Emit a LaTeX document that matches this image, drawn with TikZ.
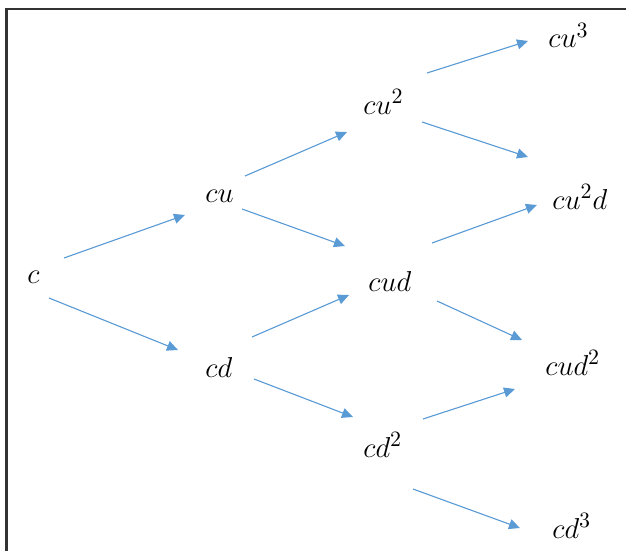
\documentclass[tikz,border=0pt]{standalone}
\usetikzlibrary{arrows.meta}
\definecolor{arrblue}{HTML}{5B9BD5}
\definecolor{framegray}{HTML}{333333}
\begin{document}
\begin{tikzpicture}[x=0.5pt,y=-0.5pt,
  lbl/.style={inner sep=0pt,anchor=base west,font=\fontsize{15.5}{18}\selectfont},
  arr/.style={draw=arrblue,line width=0.55pt,-{Triangle[length=5.5pt,width=5pt]},fill=arrblue}]
\useasboundingbox (0,0) rectangle (626,551);
\draw[framegray,line width=1.2pt] (6.5,551) -- (6.5,9) -- (626,9);
% nodes
\node[lbl] (c)    at (27,283)  {$c$};
\node[lbl] (cu)   at (205,202) {$cu$};
\node[lbl] (cd)   at (205,377) {$cd$};
\node[lbl] (cu2)  at (363,114) {$cu^{2}$};
\node[lbl] (cud)  at (368,291) {$cud$};
\node[lbl] (cd2)  at (363,457) {$cd^{2}$};
\node[lbl] (cu3)  at (548,48)  {$cu^{3}$};
\node[lbl] (cu2d) at (552,209) {$cu^{2}d$};
\node[lbl] (cud2) at (545,375) {$cud^{2}$};
\node[lbl] (cd3)  at (552,538) {$cd^{3}$};
\coordinate (free) at (528,157);
% connectors
\draw[arr] ([shift={(37,-25)}]c.base west) -- ([shift={(-20,13)}]cu.base west);
\draw[arr] ([shift={(22,15)}]c.base west) -- ([shift={(-27,-27)}]cd.base west);
\draw[arr] ([shift={(40,-26)}]cu.base west) -- ([shift={(-16,18)}]cu2.base west);
\draw[arr] ([shift={(37,7)}]cu.base west) -- ([shift={(-23,-45)}]cud.base west);
\draw[arr] ([shift={(47,-40)}]cd.base west) -- ([shift={(-19,4)}]cud.base west);
\draw[arr] ([shift={(49,2)}]cd.base west) -- ([shift={(-10,-40)}]cd2.base west);
\draw[arr] ([shift={(64,-41)}]cu2.base west) -- ([shift={(-20,-7)}]cu3.base west);
\draw[arr] ([shift={(59,8)}]cu2.base west) -- (free);
\draw[arr] ([shift={(64,-48)}]cud.base west) -- ([shift={(-15,-4)}]cu2d.base west);
\draw[arr] ([shift={(69,10)}]cud.base west) -- ([shift={(-23,-35)}]cud2.base west);
\draw[arr] ([shift={(60,-38)}]cd2.base west) -- ([shift={(-30,14)}]cud2.base west);
\draw[arr] ([shift={(50,32)}]cd2.base west) -- ([shift={(-32,-10)}]cd3.base west);
\end{tikzpicture}
\end{document}
